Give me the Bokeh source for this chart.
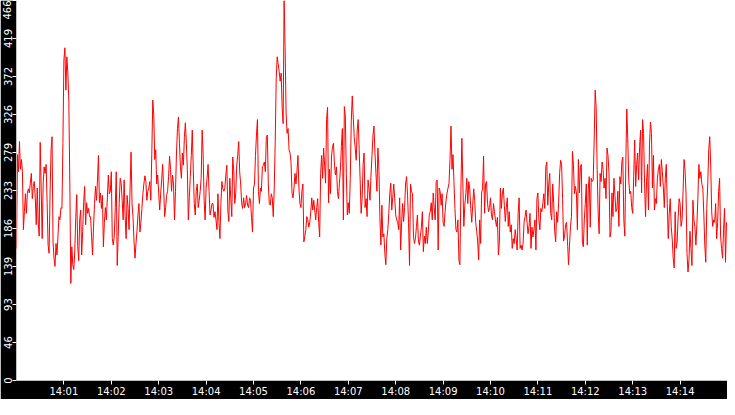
import pandas as pd
from bokeh.plotting import figure
from bokeh.models import ColumnDataSource, Range1d, FixedTicker, DatetimeTickFormatter
from bokeh.embed import file_html
from bokeh.resources import INLINE

# time window and sampling of the trace
day = "2024-01-01"
start_time = day + " 14:00:00"
end_time = day + " 14:15:00"
sample_step = "1250ms"

# axis ticks
y_ticks = [0, 46.6, 93.2, 139.8, 186.4, 233, 279.6, 326.2, 372.8, 419.4, 466]
y_labels = ["0", "46", "93", "139", "186", "233", "279", "326", "372", "419", "466"]
x_tick_labels = ["14:01", "14:02", "14:03", "14:04", "14:05", "14:06", "14:07",
                 "14:08", "14:09", "14:10", "14:11", "14:12", "14:13", "14:14"]

# values, in chunks of roughly two minutes
vals_1 = [162, 277, 256, 293, 259, 271, 256, 185, 207, 229,
          205, 230, 235, 230, 242, 254, 223, 238, 244, 224,
          191, 236, 194, 177, 292, 235, 174, 241, 262, 254,
          265, 218, 166, 156, 229, 283, 299, 170, 150, 140,
          168, 154, 177, 201, 197, 212, 211, 291, 393, 408,
          356, 397, 377, 342, 242, 119, 164, 142, 136, 158,
          200, 228, 164, 147, 197, 209, 154, 183, 218, 238,
          191, 218, 205, 211, 201, 201, 177, 154, 188, 217,
          238, 221, 246, 276, 218, 230, 211, 227, 164, 194,
          212, 197, 224, 252, 229, 232, 256, 174, 166, 177,
          212, 256, 141, 177, 217]
vals_2 = [248, 242, 221, 197, 246, 201, 174, 227, 211, 185,
          236, 280, 217, 200, 171, 150, 168, 183, 203, 217,
          182, 194, 211, 229, 241, 251, 244, 221, 232, 236,
          244, 221, 277, 344, 326, 271, 283, 241, 252, 230,
          209, 229, 246, 265, 236, 201, 212, 227, 232, 250,
          275, 259, 232, 252, 241, 197, 232, 279, 309, 323,
          291, 262, 248, 279, 264, 298, 316, 291, 259, 197,
          224, 250, 276, 307, 259, 217, 203, 232, 241, 212,
          221, 232, 248, 307, 277, 221, 197, 236, 248, 265,
          232, 203, 209, 217, 217, 200, 207, 197, 185, 229,
          194, 174, 217]
vals_3 = [244, 235, 232, 236, 252, 264, 209, 195, 248, 223,
          201, 274, 258, 217, 229, 264, 276, 293, 256, 241,
          218, 211, 224, 212, 217, 227, 215, 212, 224, 221,
          200, 182, 236, 241, 276, 301, 320, 232, 217, 236,
          232, 262, 264, 268, 256, 299, 301, 241, 217, 215,
          229, 224, 201, 236, 293, 370, 397, 388, 379, 367,
          377, 335, 315, 466, 408, 329, 303, 309, 283, 279,
          268, 230, 224, 236, 254, 241, 256, 276, 236, 217,
          212, 232, 241, 170, 177, 185, 201, 197, 188, 194,
          207, 224, 209, 221, 209, 197, 212, 223, 194, 176,
          254, 276, 248]
vals_4 = [285, 264, 242, 320, 335, 218, 259, 229, 274, 287,
          291, 264, 252, 262, 232, 223, 242, 258, 287, 309,
          197, 336, 324, 254, 203, 218, 205, 248, 318, 349,
          323, 299, 285, 270, 307, 320, 283, 246, 205, 223,
          265, 279, 212, 223, 201, 246, 235, 221, 252, 276,
          301, 312, 279, 254, 232, 285, 259, 200, 166, 215,
          176, 180, 156, 142, 174, 185, 205, 229, 242, 209,
          224, 241, 223, 203, 197, 194, 185, 224, 160, 194,
          217, 195, 212, 241, 250, 227, 194, 141, 241, 232,
          229, 177, 168, 174, 189, 203, 171, 166, 177, 188,
          207, 158, 177]
vals_5 = [168, 188, 168, 182, 203, 207, 218, 197, 230, 212,
          197, 244, 246, 160, 236, 232, 215, 229, 194, 189,
          207, 221, 230, 236, 242, 271, 312, 259, 277, 244,
          211, 185, 182, 197, 148, 142, 232, 297, 241, 189,
          215, 229, 248, 217, 244, 235, 211, 194, 215, 235,
          221, 194, 183, 171, 148, 197, 168, 230, 236, 275,
          205, 241, 244, 217, 207, 212, 224, 203, 197, 217,
          207, 197, 189, 200, 154, 170, 236, 211, 229, 236,
          215, 195, 212, 224, 189, 207, 182, 191, 162, 174,
          168, 185, 174, 160, 205, 224, 162, 166, 160, 168,
          194, 201, 209]
vals_6 = [194, 180, 189, 205, 162, 188, 176, 185, 197, 160,
          223, 230, 197, 185, 211, 207, 217, 229, 211, 262,
          268, 215, 241, 254, 205, 197, 241, 217, 183, 170,
          207, 194, 218, 254, 270, 265, 223, 171, 177, 191,
          194, 170, 142, 166, 189, 201, 281, 264, 229, 238,
          230, 185, 271, 230, 262, 265, 170, 164, 197, 217,
          241, 166, 235, 250, 188, 248, 244, 246, 295, 356,
          335, 259, 207, 180, 254, 244, 268, 259, 236, 248,
          223, 285, 276, 254, 176, 183, 230, 201, 248, 227,
          207, 211, 232, 189, 250, 241, 268, 274, 197, 177,
          264, 333, 297]
vals_7 = [246, 229, 232, 212, 205, 250, 295, 238, 265, 279,
          246, 287, 307, 230, 320, 303, 242, 201, 244, 265,
          209, 289, 317, 303, 236, 276, 209, 223, 217, 248,
          259, 265, 238, 271, 256, 238, 212, 248, 265, 217,
          174, 205, 223, 189, 174, 150, 138, 207, 162, 170,
          200, 223, 217, 189, 197, 232, 271, 258, 230, 156,
          133, 148, 183, 162, 141, 221, 197, 188, 166, 191,
          224, 265, 248, 256, 241, 236, 205, 166, 145, 211,
          241, 283, 299, 264, 207, 189, 197, 194, 217, 174,
          194, 232, 248, 177, 162, 150, 185, 211, 145, 194]

values = vals_1 + vals_2 + vals_3 + vals_4 + vals_5 + vals_6 + vals_7
times = pd.date_range(start_time, periods=len(values), freq=sample_step)
source = ColumnDataSource(data=dict(t=times, v=values))

p = figure(width=727, height=399, x_axis_type="datetime",
           x_range=Range1d(pd.Timestamp(start_time), pd.Timestamp(end_time)),
           y_range=Range1d(0, 466),
           output_backend="svg", toolbar_location=None, min_border=0,
           background_fill_color="white", border_fill_color="black",
           outline_line_color=None)

p.line("t", "v", source=source, line_color="red", line_width=1)

p.grid.visible = False

# x axis: one tick per minute
x_tick_ms = [pd.Timestamp(day + " " + s).value / 1e6 for s in x_tick_labels]
p.xaxis.ticker = FixedTicker(ticks=x_tick_ms)
fmt = "%H:%M"
p.xaxis.formatter = DatetimeTickFormatter(seconds=fmt, minsec=fmt, minutes=fmt,
                                          hourmin=fmt, hours=fmt)

# y axis: ten even steps, labels truncated
p.yaxis.ticker = FixedTicker(ticks=y_ticks)
p.yaxis.major_label_overrides = dict(zip(y_ticks, y_labels))
p.yaxis.major_label_orientation = "vertical"

for ax in p.xaxis + p.yaxis:
    ax.axis_line_color = None
    ax.major_tick_line_color = "white"
    ax.major_tick_in = 0
    ax.major_tick_out = 4
    ax.minor_tick_line_color = None
    ax.major_label_text_color = "white"
    ax.major_label_text_font = "DejaVu Sans"
    ax.major_label_text_font_size = "10px"
    ax.major_label_standoff = 1

open("out.html", "w").write(file_html(p, INLINE))
